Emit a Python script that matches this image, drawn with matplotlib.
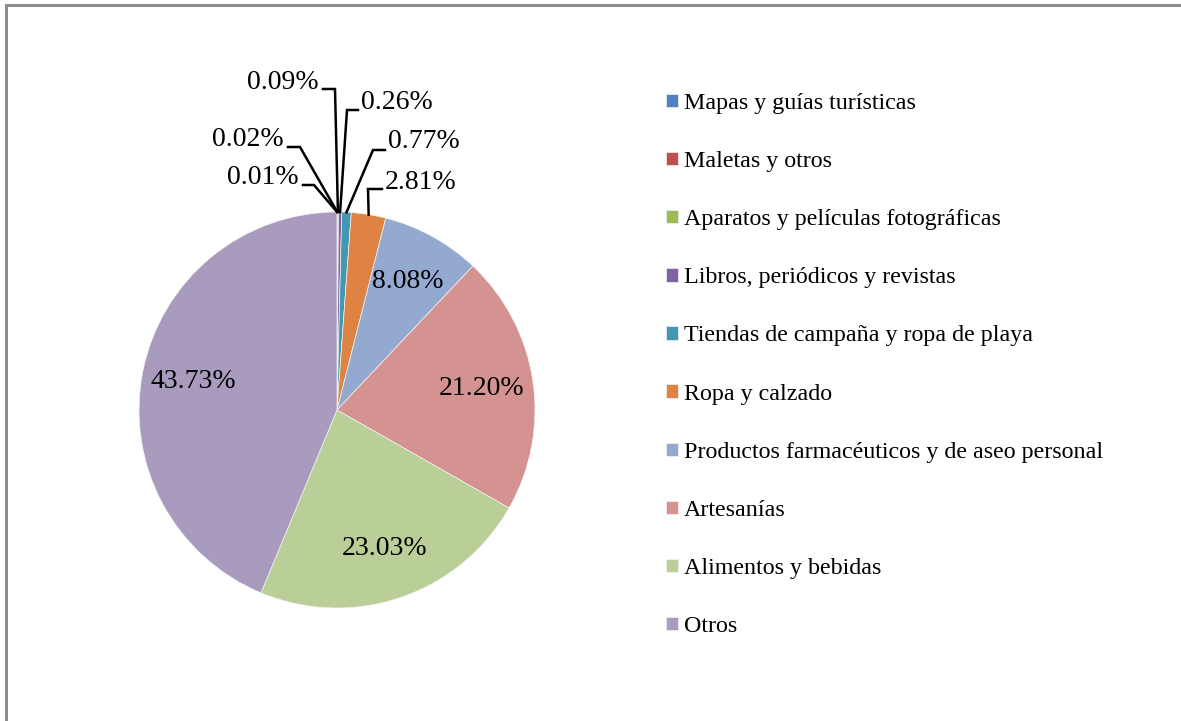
import matplotlib
matplotlib.use("Agg")
import matplotlib.pyplot as plt
import numpy as np

categories = ["Mapas y guías turísticas", "Maletas y otros",
              "Aparatos y películas fotográficas", "Libros, periódicos y revistas",
              "Tiendas de campaña y ropa de playa", "Ropa y calzado",
              "Productos farmacéuticos y de aseo personal", "Artesanías",
              "Alimentos y bebidas", "Otros"]
values = [0.01, 0.02, 0.09, 0.26, 0.77, 2.81, 8.08, 21.20, 23.03, 43.73]
label_texts = ["0.01%", "0.02%", "0.09%", "0.26%", "0.77%", "2.81%",
               "8.08%", "21.20%", "23.03%", "43.73%"]
colors = ["#4F81BD", "#C0504D", "#9BBB59", "#7F62A1", "#4298AF", "#DE8343",
          "#93A9D0", "#D49290", "#BACE98", "#A89BBE"]

plt.rcParams['font.family'] = ['Liberation Serif', 'DejaVu Serif']

W, H = 1181, 721
fig = plt.figure(figsize=(W / 100, H / 100), dpi=100)
ax = fig.add_axes([0, 0, 1, 1])
cx, cy, R = 337, 410, 198  # pixel geometry of pie

wedges, _ = ax.pie(values, colors=colors, startangle=90, counterclock=False,
                   radius=1.0, center=(0, 0), frame=True,
                   wedgeprops=dict(linewidth=0.5, edgecolor='#F4F4F4'))
ax.set_xlim(-cx / R, (W - cx) / R)
ax.set_ylim((cy - H) / R, cy / R)
ax.set_aspect('auto')
ax.axis('off')

fs_lab = 20
total = sum(values)
cum = np.cumsum([0] + values[:-1])
for i in range(6, 10):
    mid = (cum[i] + values[i] / 2) / total * 360
    ang = np.deg2rad(90 - mid)
    r = 0.74
    ax.text(r * np.cos(ang), r * np.sin(ang), label_texts[i], ha='center', va='center',
            fontsize=fs_lab, color='black')

# small slices: outside labels with leader lines (pixel layout)
# (text edge px, text center y px, elbow x px, line y px, side)
small_layout = [
    (299, 178, 314, 185, 'right'),
    (284, 140, 300, 147, 'right'),
    (319, 83, 335, 89, 'right'),
    (361, 103, 347, 110, 'left'),
    (388, 142, 373, 150, 'left'),
    (385, 183, 368, 189, 'left'),
]
def d(px, py):
    return (px - cx) / R, (cy - py) / R

for i, (tx, ty, ex, ly, side) in enumerate(small_layout):
    mid = (cum[i] + values[i] / 2) / total * 360
    ang = np.deg2rad(90 - mid)
    px_edge = (np.cos(ang), np.sin(ang))
    x0, y0 = d(tx, ty)
    ax.text(x0, y0, label_texts[i], ha='right' if side == 'right' else 'left',
            va='center', fontsize=fs_lab, color='black')
    sx = tx + 4 if side == 'right' else tx - 3
    p1 = d(sx, ly)
    p2 = d(ex, ly)
    ax.plot([p1[0], p2[0], px_edge[0]], [p1[1], p2[1], px_edge[1]],
            color='black', lw=1.8, solid_joinstyle='miter', zorder=5)

leg = ax.legend(wedges, categories, loc='upper left',
                bbox_to_anchor=(666 / W, 1 - 93 / H), bbox_transform=fig.transFigure,
                frameon=False, fontsize=17.3, handlelength=0.48, handleheight=0.48,
                handletextpad=0.25, labelspacing=1.545, borderpad=0, borderaxespad=0)

# figure border (left & top visible)
fig.add_artist(plt.Line2D([6 / W, 6 / W], [0, 1 - 5 / H], transform=fig.transFigure,
                          color='#8C8C8C', lw=2.2))
fig.add_artist(plt.Line2D([6 / W, 1], [1 - 5 / H, 1 - 5 / H], transform=fig.transFigure,
                          color='#8C8C8C', lw=2.2))

fig.savefig("out.png", dpi=100)
